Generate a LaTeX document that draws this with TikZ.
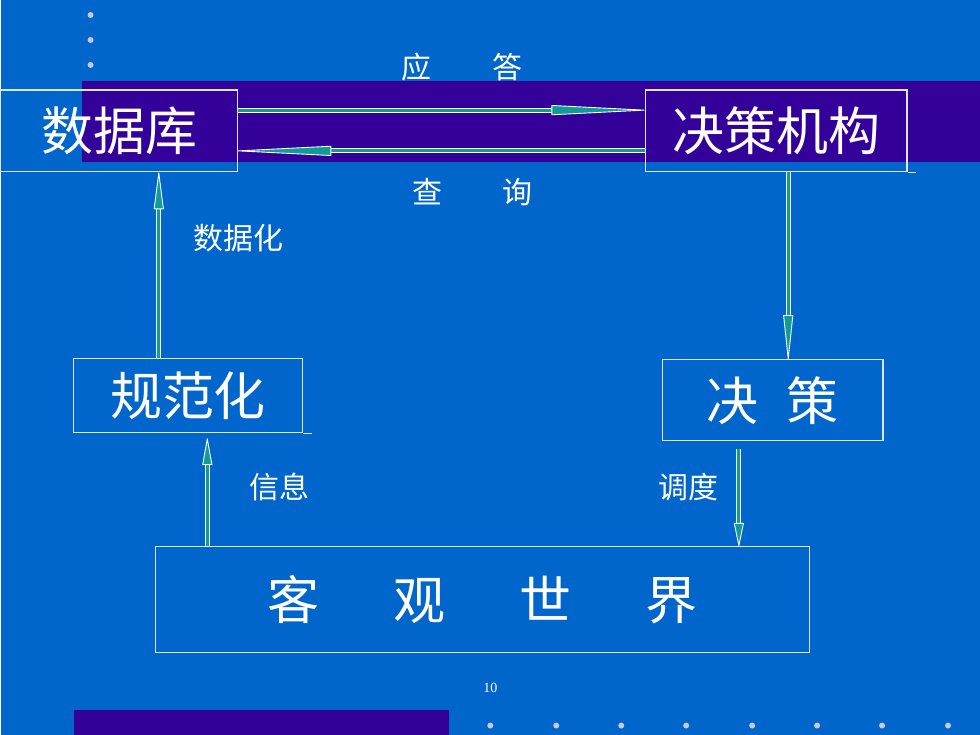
\documentclass[tikz,border=0pt]{standalone}
\usepackage{fontspec}
\setmainfont{Liberation Serif}
\newfontfamily\cjk{Noto Sans CJK SC}
\usetikzlibrary{arrows.meta,calc}

\definecolor{slidebg}{HTML}{0066CC}
\definecolor{band}{HTML}{330099}
\definecolor{boxline}{HTML}{E0E6FF}
\definecolor{arrowteal}{HTML}{109C96}
\definecolor{dotgrey}{HTML}{C8C8D8}

\tikzset{
    box/.style={draw=boxline, line width=1.2pt, inner sep=0pt, text=white,
        font=\cjk\fontsize{52}{56}\selectfont},
    tag/.style={text=white, inner sep=0pt, font=\cjk\fontsize{30}{34}\selectfont},
    flow/.style={draw=white, line width=0.9pt, double=arrowteal, double distance=3pt,
        -{Triangle[length=#1, width=10pt, line width=0.9pt, round, fill=arrowteal]}},
    dot/.style={fill=dotgrey}
}

\begin{document}
\begin{tikzpicture}[x=1pt, y=-1pt]
    % background
    \fill[slidebg] (0,0) rectangle (980,735);
    \fill[band] (81,81) rectangle (980,162);
    \fill[band] (73,710) rectangle (449,735);
    \foreach \y in {15,40,65}
        \fill[dot] (90,\y) circle (3pt);
    \foreach \x in {490,556,621,686,752,817,882,948}
        \fill[dot] (\x,726) circle (3pt);

    % boxes
    \node[box, minimum width=237pt, minimum height=82pt] (db) at (118.5,131) {数据库};
    \node[box, minimum width=262pt, minimum height=82pt] (dm) at (776,131) {决策机构};
    \node[box, minimum width=229pt, minimum height=74pt] (gf) at (187.5,396) {规范化};
    \node[box, minimum width=221pt, minimum height=81pt] (jc) at (772.5,400.5) {决\hspace{28pt}策};
    \node[box, minimum width=654pt, minimum height=106pt] (world) at (482,600)
        {客\hspace{74pt}观\hspace{74pt}世\hspace{74pt}界};
    \draw[boxline, line width=1.2pt] (dm.south east) -- ++(8,0);
    \draw[boxline, line width=1.2pt] (gf.south east) -- ++(9,0);

    % db <-> dm
    \draw[flow=102pt] ($(db.north east)!0.25!(db.south east)$) -- ($(dm.north west)!0.25!(dm.south west)$);
    \draw[flow=102pt] ($(dm.north west)!0.74!(dm.south west)$) -- ($(db.north east)!0.74!(db.south east)$);

    % gf -> db
    \coordinate (dbx) at ($(db.south west)!0.667!(db.south east)$);
    \draw[flow=40pt] (dbx |- gf.north) -- (dbx);

    % dm -> jc
    \coordinate (dmx) at ($(dm.south west)!0.546!(dm.south east)$);
    \draw[flow=48pt] (dmx) -- (dmx |- jc.north);

    % jc -> world
    \coordinate (jcx) at ($(jc.south west)!0.348!(jc.south east)$);
    \draw[flow=25pt] ([yshift=-8pt]jcx) -- (jcx |- world.north);

    % world -> gf
    \coordinate (wdx) at ($(world.north west)!0.08!(world.north east)$);
    \coordinate (gfx) at (wdx |- gf.south);
    \draw[flow=29pt] (wdx) -- ([yshift=-5pt]gfx);

    % labels
    \node[tag] (ans) at (462,67) {应\hspace{61pt}答};
    \node[tag] (qry) at (472,192) {查\hspace{60pt}询};
    \node[tag] (dig) at (238,238) {数据化};
    \node[tag] (inf) at (279,487) {信息};
    \node[tag] (sch) at (688,487) {调度};
    \node[text=white, inner sep=0pt, font=\fontsize{14}{16}\selectfont] (pg) at (490,688) {10};
\end{tikzpicture}
\end{document}
